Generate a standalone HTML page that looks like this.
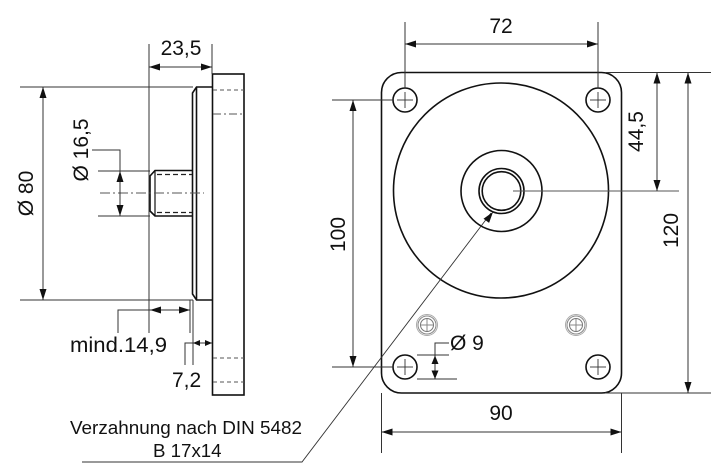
<!DOCTYPE html>
<html><head><meta charset="utf-8"><style>
html,body{margin:0;padding:0;background:#fff;}
svg{display:block;}
text{font-family:"Liberation Sans",Arial,sans-serif;fill:#111;}
</style></head><body>
<svg width="720" height="473" viewBox="0 0 720 473" xmlns="http://www.w3.org/2000/svg">
<rect width="720" height="473" fill="#fff"/>

<!-- ========== LEFT SIDE VIEW ========== -->
<g fill="none" stroke="#111" stroke-width="1.6">
  <rect x="212.5" y="74" width="31.5" height="321"/>
  <path d="M212,87 H196.5 L192.5,93 V294 L196.5,300 H212"/>
  <line x1="196.5" y1="87" x2="196.5" y2="300"/>
  <path d="M192.5,170.5 H155 L150,176 V211 L155,216 H192.5"/>
  <line x1="155" y1="171" x2="155" y2="216" stroke-width="1.2"/>
</g>
<g stroke="#555" stroke-width="1" fill="none">
  <line x1="213" y1="90" x2="244" y2="90" stroke-dasharray="4,3"/>
  <line x1="213" y1="114" x2="244" y2="114" stroke-dasharray="8,3,2,3"/>
  <line x1="213" y1="358" x2="244" y2="358" stroke-dasharray="4,3"/>
  <line x1="213" y1="382" x2="244" y2="382" stroke-dasharray="4,3"/>
  <line x1="157" y1="174.5" x2="192" y2="174.5" stroke="#222" stroke-width="1.3" stroke-dasharray="5,3"/>
  <line x1="157" y1="212.5" x2="192" y2="212.5" stroke="#222" stroke-width="1.3" stroke-dasharray="5,3"/>
  <line x1="100" y1="193" x2="204" y2="193" stroke-dasharray="10,3,2,3"/>
</g>
<!-- left dims -->
<g stroke="#333" stroke-width="1" fill="none">
  <line x1="20" y1="87" x2="193" y2="87"/>
  <line x1="20" y1="300" x2="193" y2="300"/>
  <line x1="43" y1="87" x2="43" y2="300"/>
  <line x1="98" y1="171" x2="150" y2="171"/>
  <line x1="98" y1="216" x2="150" y2="216"/>
  <line x1="120" y1="171" x2="120" y2="216"/>
  <path d="M92,150 H120 V171"/>
  <line x1="149" y1="44" x2="149" y2="333"/>
  <line x1="212" y1="44" x2="212" y2="74"/>
  <line x1="149" y1="67" x2="212" y2="67"/>
  <line x1="149" y1="310" x2="190" y2="310"/>
  <line x1="190" y1="300" x2="190" y2="333"/>
  <path d="M118,333 V310 H149"/>
  <line x1="193" y1="300" x2="193" y2="365"/>
  <line x1="193" y1="343" x2="212" y2="343"/>
  <path d="M185,365 V343 H193"/>
</g>
<g fill="#111" stroke="none">
  <polygon points="43,87 39.5,98 46.5,98"/>
  <polygon points="43,300 39.5,289 46.5,289"/>
  <polygon points="120,171 116.5,182 123.5,182"/>
  <polygon points="120,216 116.5,205 123.5,205"/>
  <polygon points="149,67 160,63.5 160,70.5"/>
  <polygon points="212,67 201,63.5 201,70.5"/>
  <polygon points="150,310 161,306.5 161,313.5"/>
  <polygon points="190,310 179,306.5 179,313.5"/>
  <polygon points="193,343 200,340 200,346"/>
  <polygon points="212,343 205,340 205,346"/>
</g>
<g font-size="21">
  <text transform="translate(33,193.5) rotate(-90)" text-anchor="middle">Ø 80</text>
  <text transform="translate(88,150) rotate(-90)" text-anchor="middle">Ø 16,5</text>
  <text x="181" y="55" text-anchor="middle">23,5</text>
  <text x="70" y="352" textLength="97" lengthAdjust="spacingAndGlyphs">mind.14,9</text>
  <text x="172" y="387">7,2</text>
</g>

<!-- ========== RIGHT FRONT VIEW ========== -->
<g fill="none" stroke="#111" stroke-width="1.6">
  <rect x="381.5" y="72.5" width="240" height="320.5" rx="20" ry="20"/>
  <circle cx="501" cy="190.5" r="107.5"/>
  <circle cx="501.5" cy="191" r="40.5"/>
  <circle cx="501.5" cy="191" r="22.5"/>
  <circle cx="501.5" cy="191" r="19.3"/>
  <circle cx="405" cy="100" r="12"/>
  <circle cx="598" cy="100" r="12"/>
  <circle cx="405" cy="367" r="12"/>
  <circle cx="598" cy="367" r="12"/>
</g>
<g stroke="#333" stroke-width="0.9">
  <line x1="397" y1="100" x2="413" y2="100"/><line x1="405" y1="92" x2="405" y2="108"/>
  <line x1="590" y1="100" x2="606" y2="100"/><line x1="598" y1="92" x2="598" y2="108"/>
  <line x1="397" y1="367" x2="413" y2="367"/><line x1="405" y1="359" x2="405" y2="375"/>
  <line x1="590" y1="367" x2="606" y2="367"/><line x1="598" y1="359" x2="598" y2="375"/>
</g>
<!-- tapped holes -->
<g fill="none" stroke="#888" stroke-width="1">
  <circle cx="427" cy="325" r="10.5" stroke="#aaa"/>
  <circle cx="427" cy="325" r="9"/>
  <circle cx="427" cy="325" r="6.5" stroke="#777"/>
  <line x1="421" y1="325" x2="433" y2="325"/><line x1="427" y1="319" x2="427" y2="331"/>
  <circle cx="576" cy="325" r="10.5" stroke="#aaa"/>
  <circle cx="576" cy="325" r="9"/>
  <circle cx="576" cy="325" r="6.5" stroke="#777"/>
  <line x1="570" y1="325" x2="582" y2="325"/><line x1="576" y1="319" x2="576" y2="331"/>
</g>
<!-- right dims -->
<g stroke="#333" stroke-width="1" fill="none">
  <line x1="513" y1="191" x2="679" y2="191" stroke="#555"/>
  <line x1="405" y1="22" x2="405" y2="88"/>
  <line x1="598" y1="22" x2="598" y2="88"/>
  <line x1="405" y1="44" x2="598" y2="44"/>
  <line x1="605" y1="72.5" x2="711" y2="72.5"/>
  <line x1="605" y1="393" x2="711" y2="393"/>
  <line x1="657" y1="72.5" x2="657" y2="191"/>
  <line x1="688" y1="72.5" x2="688" y2="393"/>
  <line x1="332" y1="100" x2="393" y2="100"/>
  <line x1="332" y1="367" x2="393" y2="367"/>
  <line x1="353" y1="100" x2="353" y2="367"/>
  <line x1="381.5" y1="393" x2="381.5" y2="453"/>
  <line x1="621.5" y1="393" x2="621.5" y2="453"/>
  <line x1="381.5" y1="432" x2="621.5" y2="432"/>
  <line x1="417" y1="355" x2="449" y2="355"/>
  <line x1="417" y1="379" x2="457" y2="379"/>
  <path d="M449,343 H435 V379"/>
  <path d="M82,462 H302 L491,213" stroke-width="0.9"/>
</g>
<g fill="#111" stroke="none">
  <polygon points="405,44 416,40.5 416,47.5"/>
  <polygon points="598,44 587,40.5 587,47.5"/>
  <polygon points="657,72.5 653.5,83.5 660.5,83.5"/>
  <polygon points="657,191 653.5,180 660.5,180"/>
  <polygon points="688,72.5 684.5,83.5 691.5,83.5"/>
  <polygon points="688,393 684.5,382 691.5,382"/>
  <polygon points="353,100 349.5,111 356.5,111"/>
  <polygon points="353,367 349.5,356 356.5,356"/>
  <polygon points="381.5,432 392.5,428.5 392.5,435.5"/>
  <polygon points="621.5,432 610.5,428.5 610.5,435.5"/>
  <polygon points="435,355.5 431.5,364 438.5,364"/>
  <polygon points="435,379 431.5,370.5 438.5,370.5"/>
  <polygon points="493,212 489.1,222.9 483.5,218.7"/>
</g>
<g font-size="21">
  <text x="501" y="33" text-anchor="middle">72</text>
  <text transform="translate(643,131.5) rotate(-90)" text-anchor="middle">44,5</text>
  <text transform="translate(678,230.5) rotate(-90)" text-anchor="middle">120</text>
  <text transform="translate(345,234.5) rotate(-90)" text-anchor="middle">100</text>
  <text x="501" y="420" text-anchor="middle">90</text>
  <text x="450" y="350">Ø 9</text>
</g>
<g font-size="18.7">
  <text x="70" y="434" textLength="232" lengthAdjust="spacingAndGlyphs">Verzahnung nach DIN 5482</text>
  <text x="153" y="457">B 17x14</text>
</g>
</svg>
</body></html>
